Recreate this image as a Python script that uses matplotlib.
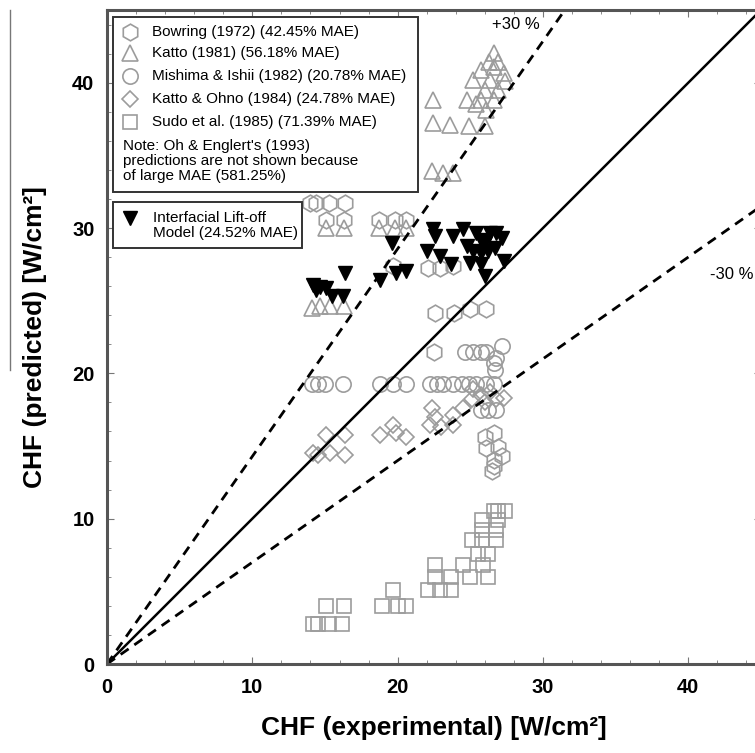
import matplotlib
matplotlib.use("Agg")
import matplotlib.pyplot as plt
from matplotlib.patches import Rectangle
from matplotlib.lines import Line2D
from matplotlib.ticker import MultipleLocator

plt.rcParams['font.family'] = ['Liberation Sans', 'DejaVu Sans']

# Bowring (1972) - hexagons
bow_x = [14.0, 14.4, 15.3, 16.4, 15.1, 16.3, 18.7, 19.8, 20.6, 19.7,
         22.1, 22.9, 23.8, 22.6, 23.9, 25.0, 26.1, 22.5,
         26.0, 26.6, 26.1, 26.9, 27.2, 26.6, 26.6, 26.5]
bow_y = [31.7, 31.7, 31.7, 31.7, 30.55, 30.55, 30.55, 30.55, 30.55, 27.4,
         27.25, 27.25, 27.4, 24.15, 24.15, 24.4, 24.4, 21.5,
         15.65, 15.9, 14.85, 14.95, 14.3, 14.05, 13.6, 13.25]

# Katto (1981) - triangles
kat_x = [26.6, 26.25, 26.9, 25.7, 26.6, 27.3, 25.2, 26.35, 27.4, 26.0, 26.9,
         24.75, 25.7, 26.6, 25.4, 26.1, 22.45,
         22.45, 23.6, 24.9, 26.0,
         19.5, 22.35, 23.15, 23.8,
         15.1, 16.3, 18.7, 19.8, 20.6,
         14.1, 14.65, 15.35, 16.3]
kat_y = [42.05, 41.45, 41.45, 40.9, 41.1, 40.65, 40.2, 40.2, 40.1, 39.5, 39.5,
         38.8, 38.8, 38.8, 38.5, 38.1, 38.8,
         37.2, 37.1, 37.0, 37.0,
         33.9, 33.9, 33.8, 33.8,
         30.0, 30.0, 30.0, 30.0, 30.0,
         24.5, 24.6, 24.6, 24.6]

# Mishima & Ishii (1982) - circles
mis_x = [14.1, 14.55, 15.0, 16.27, 18.8, 19.7, 20.6,
         22.2, 22.7, 23.1, 23.8, 24.4, 24.9, 25.4, 26.1, 26.6,
         24.6, 25.2, 25.7, 26.1, 27.2, 26.8, 26.6, 26.7,
         25.7, 26.2, 26.8]
mis_y = [19.3, 19.3, 19.3, 19.3, 19.3, 19.3, 19.3,
         19.3, 19.3, 19.3, 19.3, 19.3, 19.3, 19.3, 19.3, 19.3,
         21.5, 21.5, 21.5, 21.5, 21.85, 21.05, 20.7, 20.2,
         17.5, 17.5, 17.5]

# Katto & Ohno (1984) - diamonds
ko_x = [15.1, 16.4, 14.2, 14.5, 15.35, 16.4,
        18.8, 19.7, 19.9, 20.6,
        22.35, 22.6, 22.2, 23.0, 23.8, 23.8, 24.5, 25.1, 25.7, 26.0,
        26.8, 27.3, 25.2, 26.35]
ko_y = [15.75, 15.75, 14.5, 14.4, 14.5, 14.4,
        15.75, 16.45, 15.9, 15.65,
        17.6, 17.0, 16.45, 16.3, 17.1, 16.45, 17.6, 18.2, 18.5, 18.05,
        18.2, 18.3, 18.9, 18.75]

# Sudo et al. (1985) - squares
sud_x = [14.2, 14.5, 15.3, 16.2, 15.1, 16.3,
         18.9, 20.0, 20.6, 19.7,
         22.1, 22.9, 23.7, 22.6, 22.6, 23.7,
         25.0, 26.2, 24.5, 25.9, 25.5, 26.2,
         25.1, 25.8, 26.8, 25.8, 26.8, 25.8, 26.9, 26.6, 27.4, 26.9]
sud_y = [2.75, 2.75, 2.75, 2.75, 4.0, 4.0,
         4.0, 4.0, 4.0, 5.1,
         5.1, 5.1, 5.1, 6.0, 6.8, 6.0,
         6.0, 6.0, 6.8, 6.8, 7.6, 7.6,
         8.5, 8.5, 8.5, 9.2, 9.2, 9.9, 9.9, 10.5, 10.5, 10.5]

# Interfacial Lift-off Model - filled down triangles
ilm_x = [14.2, 14.65, 15.1, 14.4, 15.45, 16.27, 16.4,
         18.8, 19.6, 19.9, 20.6,
         22.45, 22.6, 22.0, 22.9, 23.7, 23.8, 24.5, 25.4, 25.7, 26.0,
         26.35, 26.8, 27.15, 24.75, 25.2, 25.7, 26.2, 26.7, 25.0, 25.7,
         26.0, 27.3]
ilm_y = [26.1, 25.95, 25.85, 25.75, 25.3, 25.3, 26.9,
         26.45, 28.95, 26.9, 27.05,
         29.9, 29.45, 28.4, 28.05, 27.5, 29.45, 29.9, 29.65, 29.2, 28.95,
         29.65, 29.65, 29.3, 28.75, 28.4, 28.3, 28.4, 28.6, 27.6, 27.5,
         26.7, 27.7]

labels = ["Bowring (1972) (42.45% MAE)",
          "Katto (1981) (56.18% MAE)",
          "Mishima & Ishii (1982) (20.78% MAE)",
          "Katto & Ohno (1984) (24.78% MAE)",
          "Sudo et al. (1985) (71.39% MAE)"]
note = "Note: Oh & Englert's (1993)\npredictions are not shown because\nof large MAE (581.25%)"
ilm_label = "Interfacial Lift-off\nModel (24.52% MAE)"

gray = '#9c9c9c'
styles = [dict(marker='h', ms=12),
          dict(marker='^', ms=11),
          dict(marker='o', ms=11),
          dict(marker='D', ms=8.5),
          dict(marker='s', ms=10.5)]
series = [(bow_x, bow_y), (kat_x, kat_y), (mis_x, mis_y), (ko_x, ko_y), (sud_x, sud_y)]

fig = plt.figure(figsize=(7.55, 7.53), dpi=100)
ax = fig.add_axes([107/755, 89/753, 654/755, 654/753])

for (xs, ys), st in zip(series, styles):
    ax.plot(xs, ys, ls='none', mfc='none', mec=gray, mew=1.2, **st)
ax.plot(ilm_x, ilm_y, ls='none', marker='v', ms=10, mfc='black', mec='black', zorder=5)

# parity and +/-30% lines
ax.plot([0, 45], [0, 45], color='black', lw=1.8)
ax.plot([0, 45*0.7], [0, 45], color='black', lw=2, ls=(0, (3.5, 2.5)))
ax.plot([0, 45], [0, 45*0.7], color='black', lw=2, ls=(0, (3.5, 2.5)))
ax.text(28.15, 44.0, "+30 %", fontsize=12, ha='center', va='center')
ax.text(43.0, 26.8, "-30 %", fontsize=12, ha='center', va='center')

ax.set_xlim(0, 45)
ax.set_ylim(0, 45)
ax.xaxis.set_major_locator(MultipleLocator(10))
ax.yaxis.set_major_locator(MultipleLocator(10))
ax.xaxis.set_minor_locator(MultipleLocator(2))
ax.yaxis.set_minor_locator(MultipleLocator(2))
ax.tick_params(which='both', direction='in', top=True, right=True, color='#777')
ax.tick_params(which='major', length=5, labelsize=14.5)
ax.tick_params(axis='x', which='major', pad=10)
ax.tick_params(axis='y', which='major', pad=9)
ax.tick_params(which='minor', length=3)
for lab in ax.get_xticklabels() + ax.get_yticklabels():
    lab.set_fontweight('bold')
for sp in ax.spines.values():
    sp.set_linewidth(2.2)
    sp.set_color('#555')

ax.set_xlabel("CHF (experimental) [W/cm²]", fontsize=19, fontweight='bold', labelpad=14)
ax.set_ylabel("CHF (predicted) [W/cm²]", fontsize=19, fontweight='bold', labelpad=18)


# legend boxes, drawn in pixel positions of the axes
def fx(px):
    return (px - 107) / 654


def fy(py):
    return (664 - py) / 654


ax.add_patch(Rectangle((fx(113), fy(192)), fx(418) - fx(113), fy(17) - fy(192),
                       transform=ax.transAxes, fill=True, fc='white', ec='#333', lw=1.4, zorder=6))
rows = [31.7, 53, 76, 99, 122]
for st, lab, ry in zip(styles, labels, rows):
    ax.plot([fx(130)], [fy(ry)], transform=ax.transAxes, ls='none', mfc='none', mec=gray,
            mew=1.2, clip_on=False, zorder=7, **st)
    ax.text(fx(152), fy(ry), lab, transform=ax.transAxes, fontsize=11, va='center', zorder=7)
ax.text(fx(123), fy(139), note, transform=ax.transAxes, fontsize=11, va='top',
        linespacing=1.1, zorder=7)

ax.add_patch(Rectangle((fx(113), fy(248)), fx(302) - fx(113), fy(202) - fy(248),
                       transform=ax.transAxes, fill=True, fc='white', ec='#333', lw=1.4, zorder=6))
ax.plot([fx(130)], [fy(218)], transform=ax.transAxes, ls='none', marker='v', ms=10,
        mfc='black', mec='black', clip_on=False, zorder=7)
ax.text(fx(153), fy(211), ilm_label, transform=ax.transAxes, fontsize=11, va='top',
        linespacing=1.1, zorder=7)

# stray vertical rule at the left edge of the scanned figure
fig.add_artist(Line2D([10/755, 10/755], [1 - 10/753, 1 - 370/753], color='#777', lw=1))

fig.savefig("out.png", dpi=100)
